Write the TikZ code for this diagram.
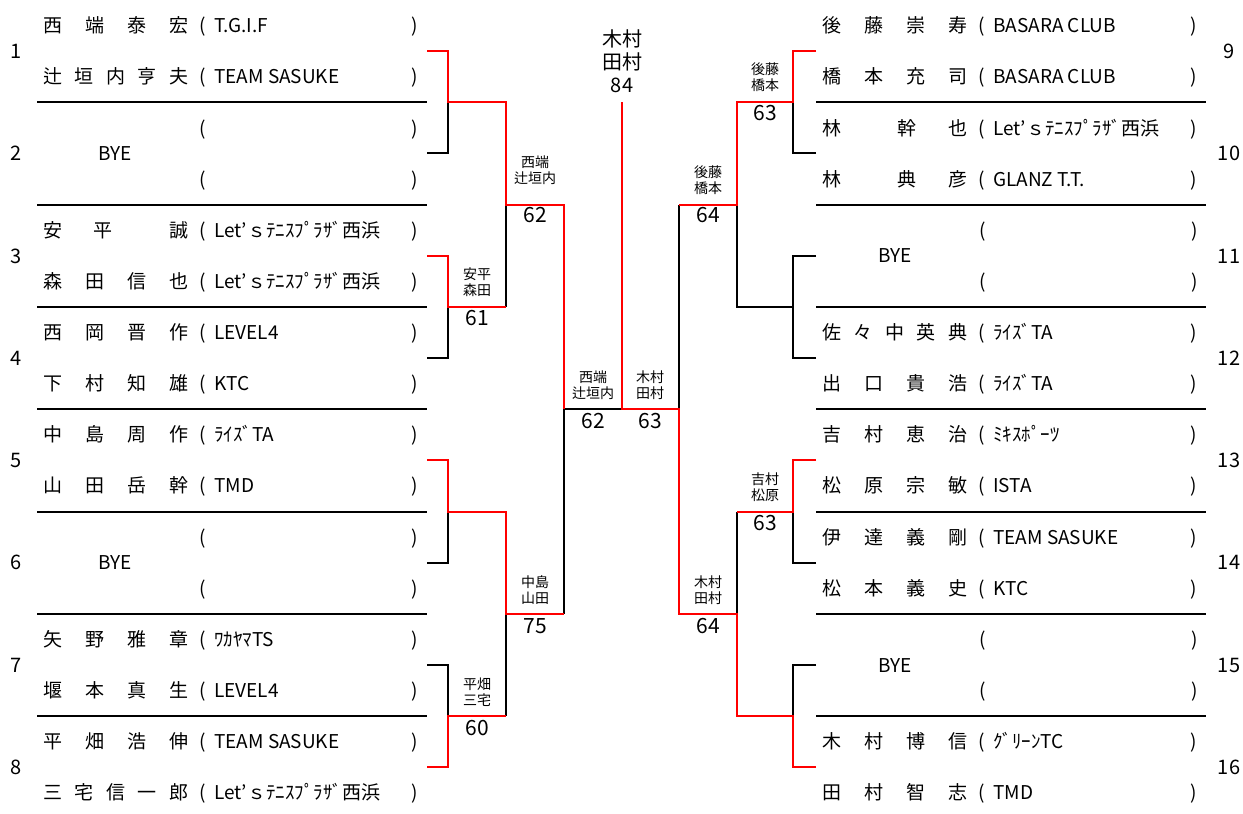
\documentclass[tikz,border=0pt]{standalone}
\usepackage{fontspec}
\setmainfont{Noto Sans CJK JP}

% spread the characters of a name over the name column
\newcommand\spreadname[1]{\makebox[145pt][l]{\expandafter\spreadloop#1\relax}}
\def\spreadloop#1#2{#1\ifx\relax#2\else\hfill\expandafter\spreadloop\expandafter#2\fi}

\begin{document}
\begin{tikzpicture}[
  x=1pt,y=-1pt,
  every node/.style={inner sep=0pt},
  rowtxt/.style={font=\fontsize{19}{22}\selectfont,text height=16pt,text depth=1.6pt},
  seedno/.style={font=\fontsize{20}{22}\selectfont,text height=14.5pt,text depth=0pt},
  pairlbl/.style={font=\fontsize{14}{16}\selectfont,align=center},
  scorelbl/.style={font=\fontsize{21}{24}\selectfont},
  sepline/.style={draw=black,line width=2pt},
  loseline/.style={draw=black,line width=2pt},
  winline/.style={draw=red,line width=2pt}
]
\useasboundingbox (0,0) rectangle (1243,814);

% seed numbers and line ends
\foreach \k in {1,...,16}{
  \pgfmathsetmacro\ty{102.3*mod(\k-1,8)+51.15}
  \pgfmathsetmacro\sx{\k<9 ? 16 : 1229}
  \pgfmathsetmacro\ex{\k<9 ? 427 : 816}
  \node[seedno] (seed\k) at (\sx,\ty) {\k};
  \coordinate (e\k) at (\ex,\ty);
}

% separators
\foreach \j in {1,...,7}{
  \draw[sepline] (37,102.3*\j) -- (427,102.3*\j);
  \draw[sepline] (816,102.3*\j) -- (1206,102.3*\j);
}

% entries
\foreach \k/\na/\ta/\nb/\tb in {
  1/西端泰宏/T.G.I.F/辻垣内亨夫/TEAM SASUKE,
  3/安　平　　誠/Let’ｓﾃﾆｽﾌﾟﾗｻﾞ西浜/森田信也/Let’ｓﾃﾆｽﾌﾟﾗｻﾞ西浜,
  4/西岡晋作/LEVEL4/下村知雄/KTC,
  5/中島周作/ﾗｲｽﾞTA/山田岳幹/TMD,
  7/矢野雅章/ﾜｶﾔﾏTS/堰本真生/LEVEL4,
  8/平畑浩伸/TEAM SASUKE/三宅信一郎/Let’ｓﾃﾆｽﾌﾟﾗｻﾞ西浜,
  9/後藤崇寿/BASARA CLUB/橋本充司/BASARA CLUB,
  10/林　　幹　也/Let’ｓﾃﾆｽﾌﾟﾗｻﾞ西浜/林　　典　彦/GLANZ T.T.,
  12/佐々中英典/ﾗｲｽﾞTA/出口貴浩/ﾗｲｽﾞTA,
  13/吉村恵治/ﾐｷｽﾎﾟｰﾂ/松原宗敏/ISTA,
  14/伊達義剛/TEAM SASUKE/松本義史/KTC,
  16/木村博信/ｸﾞﾘｰﾝTC/田村智志/TMD}{
  \pgfmathsetmacro\ty{102.3*mod(\k-1,8)}
  \pgfmathsetmacro\dx{\k<9 ? 0 : 779}
  \node[rowtxt,anchor=west] (n\k-a) at (43+\dx,\ty+25.5) {\spreadname{\na}};
  \node[rowtxt] (o\k-a) at (203+\dx,\ty+25.5) {(};
  \node[rowtxt,anchor=west] (t\k-a) at (214+\dx,\ty+25.5) {\ta};
  \node[rowtxt] (c\k-a) at (415+\dx,\ty+25.5) {)};
  \node[rowtxt,anchor=west] (n\k-b) at (43+\dx,\ty+76.5) {\spreadname{\nb}};
  \node[rowtxt] (o\k-b) at (203+\dx,\ty+76.5) {(};
  \node[rowtxt,anchor=west] (t\k-b) at (214+\dx,\ty+76.5) {\tb};
  \node[rowtxt] (c\k-b) at (415+\dx,\ty+76.5) {)};
}

% byes
\foreach \k in {2,6,11,15}{
  \pgfmathsetmacro\ty{102.3*mod(\k-1,8)}
  \pgfmathsetmacro\dx{\k<9 ? 0 : 780}
  \node[rowtxt] (bye\k) at (115+\dx,\ty+51.15) {BYE};
  \foreach \r/\s in {25.5/a,76.5/b}{
    \node[rowtxt] (o\k-\s) at (203+\dx,\ty+\r) {(};
    \node[rowtxt] (c\k-\s) at (415+\dx,\ty+\r) {)};
  }
}

% joins
\coordinate (ja) at (448,102.3);
\coordinate (jb) at (448,306.9);
\coordinate (jc) at (448,511.5);
\coordinate (jd) at (448,716.1);
\coordinate (je) at (793,102.3);
\coordinate (jf) at (793,306.9);
\coordinate (jg) at (793,511.5);
\coordinate (jh) at (793,716.1);
\coordinate (kab) at (506,204.6);
\coordinate (kcd) at (506,613.8);
\coordinate (kef) at (737,204.6);
\coordinate (kgh) at (737,613.8);
\coordinate (sl) at (564,409.2);
\coordinate (sr) at (679,409.2);
\coordinate (fin) at (621.5,409.2);
\coordinate (top) at (621.5,102);

% lost lines
\draw[loseline] (e2) -| (ja);
\draw[loseline] (e4) -| (jb);
\draw[loseline] (e6) -| (jc);
\draw[loseline] (e7) -| (jd);
\draw[loseline] (e10) -| (je);
\draw[loseline] (e11) -| (jf) -- (jf -| kef) -- (kef);
\draw[loseline] (e12) -| (jf);
\draw[loseline] (e14) -| (jg);
\draw[loseline] (e15) -| (jh);
\draw[loseline] (jb -| kab) -- (kab);
\draw[loseline] (jd -| kcd) -- (kcd);
\draw[loseline] (jg -| kgh) -- (kgh);
\draw[loseline] (kcd -| sl) -- (sl) -- (fin);
\draw[loseline] (kef -| sr) -- (sr);

% winning lines
\draw[winline] (e1) -| (ja) -- (ja -| kab) -- (kab) -- (kab -| sl) -- (sl);
\draw[winline] (e3) -| (jb) -- (jb -| kab);
\draw[winline] (e5) -| (jc) -- (jc -| kcd) -- (kcd) -- (kcd -| sl);
\draw[winline] (e8) -| (jd) -- (jd -| kcd);
\draw[winline] (e9) -| (je) -- (je -| kef) -- (kef) -- (kef -| sr);
\draw[winline] (e13) -| (jg) -- (jg -| kgh);
\draw[winline] (e16) -| (jh) -- (jh -| kgh) -- (kgh) -- (kgh -| sr) -- (sr) -- (fin) -- (top);

% winners and scores
\node[pairlbl] (lb) at (477,282) {安平\\森田};
\node[scorelbl] (sb) at (477,318) {61};
\node[pairlbl] (ld) at (477,692) {平畑\\三宅};
\node[scorelbl] (sd) at (477,728) {60};
\node[pairlbl] (lab) at (535,170) {西端\\辻垣内};
\node[scorelbl] (sab) at (535,215) {62};
\node[pairlbl] (lcd) at (535,590) {中島\\山田};
\node[scorelbl] (scd) at (535,626) {75};
\node[pairlbl] (lsl) at (593,385) {西端\\辻垣内};
\node[scorelbl] (ssl) at (593,421) {62};
\node[pairlbl] (lsr) at (650,385) {木村\\田村};
\node[scorelbl] (ssr) at (650,421) {63};
\node[pairlbl] (lef) at (708,180) {後藤\\橋本};
\node[scorelbl] (sef) at (708,215) {64};
\node[pairlbl] (lgh) at (708,590) {木村\\田村};
\node[scorelbl] (sgh) at (708,626) {64};
\node[pairlbl] (le) at (765,77) {後藤\\橋本};
\node[scorelbl] (se) at (765,113) {63};
\node[pairlbl] (lg) at (765,487) {吉村\\松原};
\node[scorelbl] (sg) at (765,523) {63};
\node[pairlbl,font=\fontsize{20}{23}\selectfont] (champ) at (622,61) {木村\\田村\\84};
\end{tikzpicture}
\end{document}
